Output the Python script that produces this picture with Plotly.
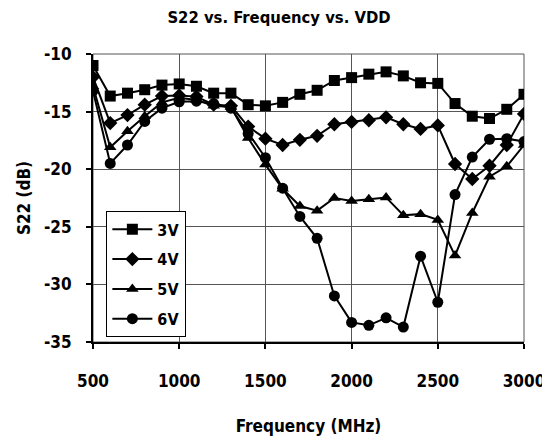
import plotly.graph_objects as go

freq = [500, 600, 700, 800, 900, 1000, 1100, 1200, 1300, 1400, 1500, 1600, 1700,
        1800, 1900, 2000, 2100, 2200, 2300, 2400, 2500, 2600, 2700, 2800, 2900, 3000]

s22_3v = [-11.0, -13.65, -13.4, -13.1, -12.7, -12.6, -12.8, -13.4, -13.4, -14.4, -14.5, -14.2, -13.5,
          -13.15, -12.3, -12.05, -11.75, -11.55, -11.9, -12.5, -12.55, -14.3, -15.4, -15.6, -14.8, -13.5]
s22_4v = [-12.0, -16.0, -15.3, -14.4, -13.65, -13.6, -13.7, -14.4, -14.5, -16.3, -17.35, -17.9, -17.45,
          -17.1, -16.1, -15.9, -15.75, -15.5, -16.1, -16.5, -16.2, -19.55, -20.85, -19.7, -17.9, -15.2]
s22_5v = [-12.8, -18.1, -16.7, -15.4, -14.2, -13.8, -14.0, -14.5, -14.6, -17.3, -19.6, -21.7, -23.2,
          -23.6, -22.5, -22.75, -22.6, -22.45, -24.0, -23.9, -24.4, -27.5, -23.8, -20.65, -19.75, -17.9]
s22_6v = [-13.2, -19.5, -17.9, -15.85, -14.7, -14.15, -14.1, -14.3, -14.7, -16.9, -19.0, -21.65, -24.1,
          -26.0, -31.0, -33.3, -33.55, -32.9, -33.7, -27.55, -31.55, -22.2, -18.95, -17.4, -17.35, -17.6]

x_ticks = [500, 1000, 1500, 2000, 2500, 3000]
y_ticks = [-35, -30, -25, -20, -15, -10]

series = [("3V", s22_3v, "square", 11), ("4V", s22_4v, "diamond", 11),
          ("5V", s22_5v, "triangle-up", 11), ("6V", s22_6v, "circle", 11)]

FONT = "DejaVu Sans Condensed, Liberation Sans Narrow, Arial Narrow, sans-serif"

fig = go.Figure()
for name, vals, sym, sz in series:
    fig.add_trace(go.Scatter(x=freq, y=vals, name="<b>%s</b>" % name, legendgroup=name,
                             mode="lines+markers",
                             line=dict(color="black", width=2),
                             marker=dict(symbol=sym, size=sz, color="black")))

# the page body adds an 8px offset; figure size compensates for it
fig.update_layout(
    width=542, height=435,
    margin=dict(l=85, r=26, t=46, b=101),
    paper_bgcolor="white", plot_bgcolor="white",
    font=dict(family=FONT, color="black"),
    title=dict(text="<b>S22 vs. Frequency vs. VDD</b>", x=0.5, xanchor="center",
               y=0.978, yanchor="middle", font=dict(size=16.5, family=FONT)),
    showlegend=True,
    legend=dict(x=0.031, y=0.016, xanchor="left", yanchor="bottom",
                bgcolor="white", bordercolor="black", borderwidth=1,
                font=dict(size=16, family=FONT), tracegroupgap=6,
                itemwidth=40),
)
fig.update_xaxes(range=[500, 3000], tickvals=x_ticks,
                 ticktext=["<b>%d</b>" % v for v in x_ticks],
                 showgrid=True, gridcolor="#555", gridwidth=1,
                 showline=True, linecolor="black", linewidth=2, mirror=False,
                 ticks="outside", ticklen=5, tickwidth=2, tickcolor="black",
                 tickfont=dict(size=17, family=FONT), ticklabelstandoff=18,
                 title=dict(text="<b>Frequency (MHz)</b>", font=dict(size=17, family=FONT), standoff=30),
                 automargin=False, zeroline=False)
fig.update_yaxes(range=[-35, -10], tickvals=y_ticks,
                 ticktext=["<b>%d</b>" % v for v in y_ticks],
                 showgrid=True, gridcolor="#555", gridwidth=1,
                 showline=True, linecolor="black", linewidth=2,
                 ticks="outside", ticklen=5, tickwidth=2, tickcolor="black",
                 tickfont=dict(size=17, family=FONT), ticklabelstandoff=11,
                 title=dict(text="<b>S22 (dB)</b>", font=dict(size=17, family=FONT), standoff=9),
                 automargin=False, zeroline=False)
fig.add_shape(type="rect", xref="paper", yref="paper", x0=0, y0=0, x1=1, y1=1,
              line=dict(color="#555", width=1), layer="below")

fig.write_html("out.html")
